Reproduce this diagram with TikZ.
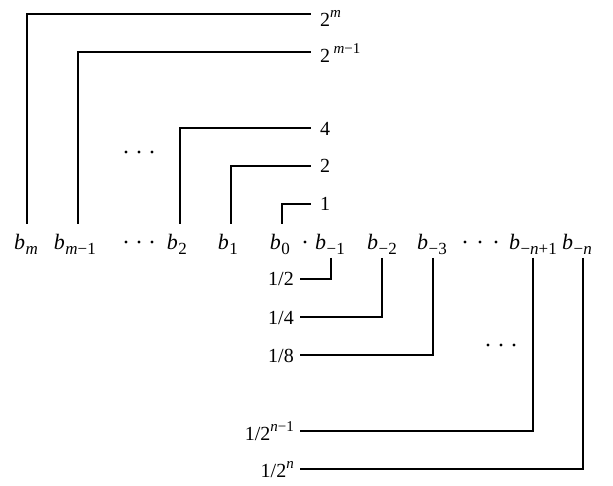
\documentclass[tikz,border=0pt]{standalone}
\usepackage{fontspec}
\setmainfont{Liberation Serif}
\newcommand{\bsb}[1]{{\fontsize{22}{24}\selectfont\itshape b}\kern0.5pt\raisebox{-0.25em}{\fontsize{17}{17}\selectfont #1}}
\newcommand{\spr}[1]{\raisebox{0.45em}{\fontsize{15}{15}\selectfont #1}}
\begin{document}
\begin{tikzpicture}[x=1pt,y=-1pt,
  lbl/.style={inner sep=0pt,font=\fontsize{20}{22}\selectfont},
  wire/.style={line width=1.2pt},
  dotc/.style={fill=black,circle,inner sep=0pt,minimum size=3.2pt}]
\useasboundingbox (0,0) rectangle (613,486);
% bit labels (baseline y=250)
\node[lbl,anchor=base east] (bm)   at (38,250) {\bsb{\itshape m}};
\node[lbl,anchor=base east] (bm1)  at (96,250) {\bsb{{\itshape m}−1}};
\node[lbl,anchor=base east] (b2)   at (187,250) {\bsb{2}};
\node[lbl,anchor=base east] (b1)   at (238,250) {\bsb{1}};
\node[lbl,anchor=base east] (b0)   at (290,250) {\bsb{0}};
\node[dotc] (pt) at (305,242) {};
\node[lbl,anchor=base east] (bn1)  at (345,250) {\bsb{−1}};
\node[lbl,anchor=base east] (bn2)  at (397,250) {\bsb{−2}};
\node[lbl,anchor=base east] (bn3)  at (447,250) {\bsb{−3}};
\node[lbl,anchor=base east] (bnp)  at (557,250) {\bsb{−{\itshape n}+1}};
\node[lbl,anchor=base east] (bnn)  at (592,250) {\bsb{−{\itshape n}}};
% weight labels (top)
\node[lbl,anchor=base west] (w2m)  at (320,27) {2\spr{\itshape m}};
\node[lbl,anchor=base west] (w2m1) at (320,63) {2\,\spr{{\itshape m}−1}};
\node[lbl,anchor=base west] (w4)   at (320,136) {4};
\node[lbl,anchor=base west] (w2)   at (320,173) {2};
\node[lbl,anchor=base west] (w1)   at (320,211) {1};
% weight labels (bottom)
\node[lbl,anchor=base east] (h2)   at (294,286) {1/2};
\node[lbl,anchor=base east] (h4)   at (294,324) {1/4};
\node[lbl,anchor=base east] (h8)   at (294,362) {1/8};
\node[lbl,anchor=base east] (hn1)  at (294,440) {1/2\spr{{\itshape n}−1}};
\node[lbl,anchor=base east] (hn)   at (294,477) {1/2\spr{\itshape n}};
% corners of connectors
\coordinate (pm)  at (27,224);  \coordinate (em)  at (311,14);
\coordinate (pm1) at (78,224);  \coordinate (em1) at (311,52);
\coordinate (p2)  at (180,224); \coordinate (e2)  at (311,128);
\coordinate (p1)  at (231,224); \coordinate (e1)  at (311,166);
\coordinate (p0)  at (282,224); \coordinate (e0)  at (311,204);
\coordinate (qn1) at (331,258); \coordinate (fn1) at (300,279);
\coordinate (qn2) at (382,258); \coordinate (fn2) at (300,317);
\coordinate (qn3) at (433,258); \coordinate (fn3) at (300,355);
\coordinate (qnp) at (533,258); \coordinate (fnp) at (300,431);
\coordinate (qnn) at (583,258); \coordinate (fnn) at (300,469);
\draw[wire] (pm) |- (em);
\draw[wire] (pm1) |- (em1);
\draw[wire] (p2) |- (e2);
\draw[wire] (p1) |- (e1);
\draw[wire] (p0) |- (e0);
\draw[wire] (qn1) |- (fn1);
\draw[wire] (qn2) |- (fn2);
\draw[wire] (qn3) |- (fn3);
\draw[wire] (qnp) |- (fnp);
\draw[wire] (qnn) |- (fnn);
% ellipses
\foreach \x in {126,139,152} \node[dotc] at (\x,152) {};
\foreach \x in {126,139,152} \node[dotc] at (\x,242) {};
\foreach \x in {465,480,496} \node[dotc] at (\x,242) {};
\foreach \x in {488,501,514} \node[dotc] at (\x,345) {};
\end{tikzpicture}
\end{document}
